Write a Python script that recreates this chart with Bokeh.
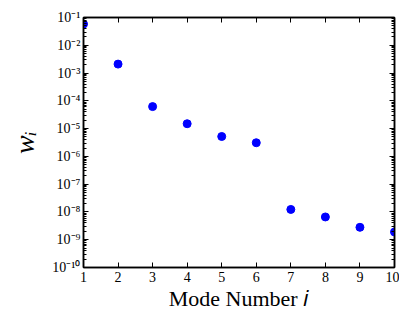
from bokeh.plotting import figure
from bokeh.models import LogAxis, LinearAxis, CustomJSTickFormatter, FixedTicker, Range1d
from bokeh.embed import file_html
from bokeh.resources import INLINE

modes = [1, 2, 3, 4, 5, 6, 7, 8, 9, 10]
weights = [5.8e-2, 2.1e-3, 6.2e-5, 1.5e-5, 5.2e-6, 3.1e-6, 1.23e-8, 6.6e-9, 2.8e-9, 1.9e-9]
x_ticks = [1, 2, 3, 4, 5, 6, 7, 8, 9, 10]
y_ticks = [1e-10, 1e-9, 1e-8, 1e-7, 1e-6, 1e-5, 1e-4, 1e-3, 1e-2, 1e-1]
y_minor = [k * d for d in y_ticks[:-1] for k in range(2, 10)]

FONT = "Liberation Serif"

p = figure(frame_width=311, frame_height=250, y_axis_type="log",
           x_range=Range1d(1, 10), y_range=Range1d(1e-10, 1e-1),
           output_backend="svg", toolbar_location=None,
           min_border_left=83, min_border_right=5, min_border_top=17, min_border_bottom=45)
p.xgrid.visible = False
p.ygrid.visible = False
p.outline_line_color = "black"
p.outline_line_width = 1.5

p.scatter(modes, weights, size=8, color="blue", line_color="blue")

sup = """
var m = {'-':'\u207b','0':'\u2070','1':'\u00b9','2':'\u00b2','3':'\u00b3','4':'\u2074','5':'\u2075','6':'\u2076','7':'\u2077','8':'\u2078','9':'\u2079'};
var e = Math.round(Math.log10(tick)).toString();
var s = '';
for (var i = 0; i < e.length; i++) { s += m[e[i]]; }
return '10' + s;
"""
blank = CustomJSTickFormatter(code="return '';")

def style(ax):
    ax.axis_line_width = 1.5
    ax.axis_line_color = "black"
    ax.major_tick_in = 5
    ax.major_tick_out = 0
    ax.minor_tick_in = 3
    ax.minor_tick_out = 0
    ax.major_tick_line_color = "black"
    ax.minor_tick_line_color = "black"
    ax.major_label_text_font = FONT
    ax.major_label_text_font_size = "14px"
    ax.major_label_text_color = "black"

yl = p.yaxis[0]
yl.ticker = FixedTicker(ticks=y_ticks, minor_ticks=y_minor)
yl.formatter = CustomJSTickFormatter(code=sup)
style(yl)
yl.major_label_standoff = 3
yl.axis_label = "w\u1d62"
yl.axis_label_text_font = FONT
yl.axis_label_text_font_style = "italic"
yl.axis_label_text_font_size = "28px"
yl.axis_label_text_color = "black"
yl.axis_label_standoff = 9

xb = p.xaxis[0]
xb.ticker = FixedTicker(ticks=x_ticks)
style(xb)
xb.minor_tick_in = 0
xb.axis_label = "Mode Number \U0001d456"
xb.axis_label_text_font = FONT
xb.axis_label_text_font_style = "normal"
xb.axis_label_text_font_size = "22px"
xb.axis_label_text_color = "black"
xb.axis_label_standoff = 1
xb.major_label_standoff = 4

yr = LogAxis(ticker=FixedTicker(ticks=y_ticks, minor_ticks=y_minor), formatter=blank)
style(yr)
yr.major_label_standoff = 0
p.add_layout(yr, "right")
xt = LinearAxis(ticker=FixedTicker(ticks=x_ticks), formatter=blank)
style(xt)
xt.major_label_standoff = 0
xt.minor_tick_in = 0
p.add_layout(xt, "above")

open("out.html", "w").write(file_html(p, INLINE))
